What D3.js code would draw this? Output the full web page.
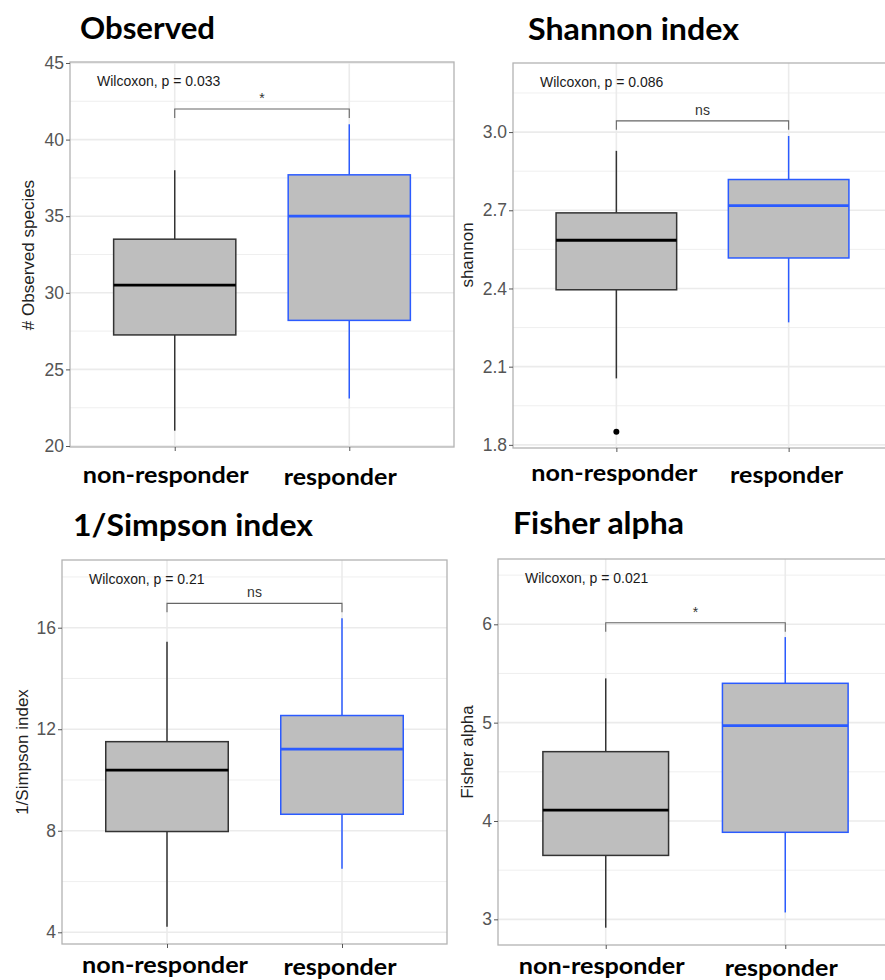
<!DOCTYPE html>
<html>
<head>
<meta charset="utf-8">
<script src="https://cdn.jsdelivr.net/npm/d3@7"></script>
<style>
  body { margin: 0; background: #fff; }
  svg { display: block; }
</style>
</head>
<body>
<div class="chartdiv"></div>
<script>
// ---- data ----
const groups = ["non-responder", "responder"]
const titles = ["Observed", "Shannon index", "1/Simpson index", "Fisher alpha"]
const yTitles = ["# Observed species", "shannon", "1/Simpson index", "Fisher alpha"]
const pLabels = ["Wilcoxon, p = 0.033", "Wilcoxon, p = 0.086", "Wilcoxon, p = 0.21", "Wilcoxon, p = 0.021"]
const sigLabels = ["*", "ns", "ns", "*"]
const bracketValues = [42, 3.043, 16.96, 6.016]

// box stats: [lower whisker, q1, median, q3, upper whisker] per group
const observedStats = [[21, 27.25, 30.5, 33.5, 38], [23.1, 28.2, 35, 37.7, 41]]
const shannonStats = [[2.055, 2.395, 2.585, 2.69, 2.928], [2.27, 2.517, 2.718, 2.818, 2.985]]
const simpsonStats = [[4.22, 7.97, 10.39, 11.51, 15.45], [6.5, 8.65, 11.22, 12.54, 16.37]]
const fisherStats = [[2.915, 3.65, 4.11, 4.705, 5.45], [3.07, 3.885, 4.97, 5.40, 5.87]]
const shannonOutliers = [[1.85], []]

const yTicks = [[20, 25, 30, 35, 40, 45], [1.8, 2.1, 2.4, 2.7, 3.0], [4, 8, 12, 16], [3, 4, 5, 6]]
const yDomains = [[19.935, 45.065], [1.788, 3.265], [3.539, 18.667], [2.739, 6.664]]

const allStats = [observedStats, shannonStats, simpsonStats, fisherStats]
const allOutliers = [[[], []], shannonOutliers, [[], []], [[], []]]

// ---- layout of the four panels ----
const layout = [
    {x0: 70, x1: 454, y0: 62, y1: 447, tx: 80, ty: 39, tw: 135, lx: -9, ly: 483, ytx: 28, yty: 255, fmt: d3.format('d')},
    {x0: 513, x1: 892, y0: 63, y1: 448, tx: 528, ty: 40, tw: 211, lx: -2, ly: 481, ytx: 467, yty: 255, fmt: d3.format('.1f')},
    {x0: 62, x1: 447, y0: 560, y1: 944, tx: 73, ty: 536, tw: 240, lx: -2, ly: 973, ytx: 22, yty: 752, fmt: d3.format('d')},
    {x0: 498, x1: 893, y0: 559, y1: 945, tx: 513, ty: 534, tw: 171, lx: -4, ly: 974, ytx: 467, yty: 752, fmt: d3.format('d')}
]
const labelWidths = [166, 113]

const boxFill = '#bebebe',
    colors = ['#333333', '#2b5bff'],
    gridCol = '#ebebeb',
    borderCol = '#b3b3b3'

const W = 885, H = 980
const svg = d3.select('.chartdiv').append('svg')
    .attr('width', W)
    .attr('height', H)
    .style('font-family', '"Liberation Sans", Arial, sans-serif')

svg.append('rect').attr('width', W).attr('height', H).attr('fill', '#fff')

function make_panel(i) {
    let L = layout[i]
    let xScale = d3.scaleLinear().domain([0.4, 2.6]).range([L.x0, L.x1])
    let yScale = d3.scaleLinear().domain(yDomains[i]).range([L.y1, L.y0])
    let g = svg.append('g').attr('class', 'panel_' + i)

    // clip to panel area
    let clipId = 'clip_' + i
    g.append('clipPath').attr('id', clipId)
        .append('rect')
        .attr('x', L.x0).attr('y', L.y0)
        .attr('width', L.x1 - L.x0).attr('height', L.y1 - L.y0)

    let inner = g.append('g').attr('clip-path', 'url(#' + clipId + ')')

    // minor gridlines (midpoints between major ticks)
    let ticks = yTicks[i]
    let step = ticks[1] - ticks[0]
    let minor = ticks.map(t => t + step / 2).concat([ticks[0] - step / 2])
    inner.selectAll('.minor').data(minor).enter().append('line')
        .attr('x1', L.x0).attr('x2', L.x1)
        .attr('y1', d => yScale(d)).attr('y2', d => yScale(d))
        .attr('stroke', gridCol).attr('stroke-width', 0.8)

    // major gridlines
    inner.selectAll('.major').data(ticks).enter().append('line')
        .attr('x1', L.x0).attr('x2', L.x1)
        .attr('y1', d => yScale(d)).attr('y2', d => yScale(d))
        .attr('stroke', gridCol).attr('stroke-width', 1.6)
    inner.selectAll('.vmajor').data([1, 2]).enter().append('line')
        .attr('x1', d => xScale(d)).attr('x2', d => xScale(d))
        .attr('y1', L.y0).attr('y2', L.y1)
        .attr('stroke', gridCol).attr('stroke-width', 1.6)

    // boxes
    let stats = allStats[i]
    let half = 0.35
    stats.forEach((s, k) => {
        let cx = xScale(k + 1), col = colors[k]
        // whiskers
        inner.append('line')
            .attr('x1', cx).attr('x2', cx)
            .attr('y1', yScale(s[0])).attr('y2', yScale(s[1]))
            .attr('stroke', col).attr('stroke-width', 1.5)
        inner.append('line')
            .attr('x1', cx).attr('x2', cx)
            .attr('y1', yScale(s[3])).attr('y2', yScale(s[4]))
            .attr('stroke', col).attr('stroke-width', 1.5)
        // box
        inner.append('rect')
            .attr('x', xScale(k + 1 - half))
            .attr('width', xScale(k + 1 + half) - xScale(k + 1 - half))
            .attr('y', yScale(s[3]))
            .attr('height', yScale(s[1]) - yScale(s[3]))
            .attr('fill', boxFill)
            .attr('stroke', col).attr('stroke-width', 1.5)
        // median
        inner.append('line')
            .attr('x1', xScale(k + 1 - half)).attr('x2', xScale(k + 1 + half))
            .attr('y1', yScale(s[2])).attr('y2', yScale(s[2]))
            .attr('stroke', k == 0 ? '#000' : col).attr('stroke-width', 2.8)
        // outliers
        allOutliers[i][k].forEach(o => {
            inner.append('circle')
                .attr('cx', cx).attr('cy', yScale(o)).attr('r', 3)
                .attr('fill', '#000')
        })
    })

    // significance bracket
    let by = yScale(bracketValues[i])
    inner.append('path')
        .attr('d', `M${xScale(1)},${by + 9}V${by}H${xScale(2)}V${by + 9}`)
        .attr('fill', 'none').attr('stroke', '#666').attr('stroke-width', 1.1)
    inner.append('text')
        .attr('x', (xScale(1) + xScale(2)) / 2)
        .attr('y', by - 6)
        .attr('text-anchor', 'middle')
        .style('font-size', '14px')
        .style('fill', '#333')
        .text(sigLabels[i])

    // wilcoxon text
    inner.append('text')
        .attr('x', L.x0 + 27)
        .attr('y', L.y0 + 24)
        .style('font-size', '14px')
        .style('fill', '#1a1a1a')
        .text(pLabels[i])

    // panel border
    g.append('rect')
        .attr('x', L.x0).attr('y', L.y0)
        .attr('width', L.x1 - L.x0).attr('height', L.y1 - L.y0)
        .attr('fill', 'none').attr('stroke', borderCol).attr('stroke-width', 1.3)

    // y axis
    let yAxis = d3.axisLeft(yScale).tickValues(ticks).tickSize(4).tickPadding(2).tickFormat(L.fmt)
    let gy = g.append('g')
        .attr('transform', 'translate(' + L.x0 + ',0)')
        .call(yAxis)
    gy.select('.domain').remove()
    gy.selectAll('.tick line').attr('stroke', '#555')
    gy.selectAll('.tick text')
        .style('font-size', '17.5px')
        .style('fill', '#555')
        .style('font-family', '"Liberation Sans", Arial, sans-serif')

    // x axis ticks (labels are placed separately)
    let xAxis = d3.axisBottom(xScale).tickValues([1, 2]).tickSize(4).tickFormat('')
    let gx = g.append('g')
        .attr('transform', 'translate(0,' + L.y1 + ')')
        .call(xAxis)
    gx.select('.domain').remove()
    gx.selectAll('.tick line').attr('stroke', '#555')

    // x category labels
    g.selectAll('.xlab').data(groups).enter().append('text')
        .attr('x', (d, k) => xScale(k + 1) + L.lx - labelWidths[k] / 2)
        .attr('y', (d, k) => L.ly + k * 2)
        .attr('textLength', (d, k) => labelWidths[k])
        .attr('lengthAdjust', 'spacingAndGlyphs')
        .style('font-family', 'Lato, "Open Sans", sans-serif')
        .style('font-weight', 'bold')
        .style('font-size', '23.5px')
        .style('fill', '#000')
        .text(d => d)

    // y title
    g.append('text')
        .attr('transform', 'translate(' + L.ytx + ',' + L.yty + ') rotate(-90)')
        .attr('text-anchor', 'middle')
        .attr('dy', '0.35em')
        .style('font-size', '17px')
        .style('fill', '#222')
        .text(yTitles[i])

    // panel title
    g.append('text')
        .attr('x', L.tx).attr('y', L.ty)
        .attr('textLength', L.tw)
        .attr('lengthAdjust', 'spacingAndGlyphs')
        .style('font-family', 'Lato, "Open Sans", sans-serif')
        .style('font-weight', 'bold')
        .style('font-size', '30px')
        .style('fill', '#000')
        .text(titles[i])
}

titles.forEach((d, i) => make_panel(i))
</script>
</body>
</html>
